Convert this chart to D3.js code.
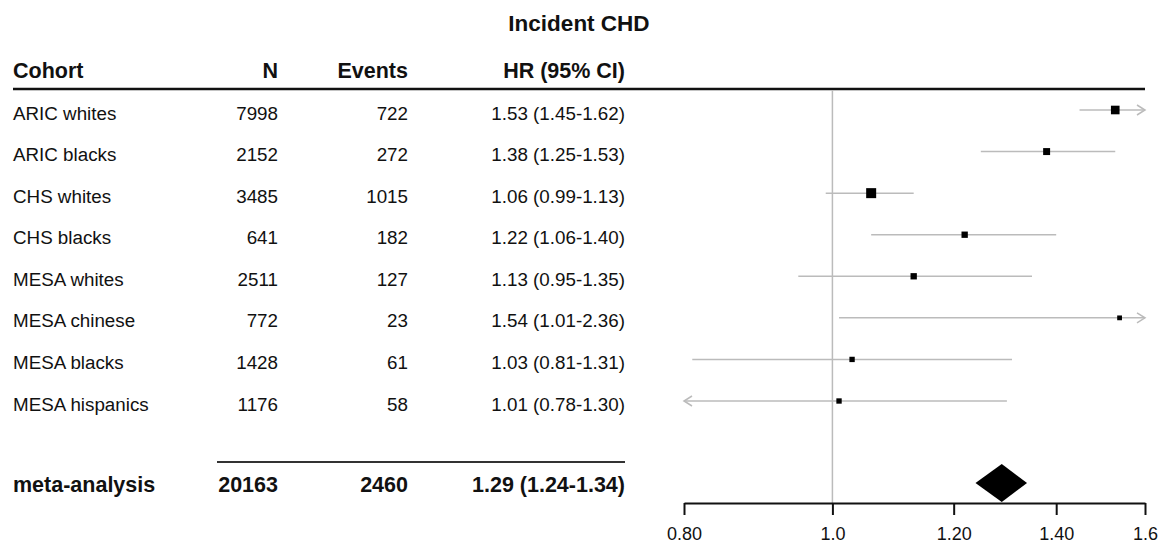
<!DOCTYPE html>
<html>
<head>
<meta charset="utf-8">
<script src="https://cdn.jsdelivr.net/npm/d3@7"></script>
<style>
  body { margin: 0; background: #fff; }
  svg text { font-family: "Liberation Sans", Arial, sans-serif; fill: #111; }
</style>
</head>
<body>
<svg id="chart" width="1163" height="550"></svg>
<script>
const cohorts = ["ARIC whites", "ARIC blacks", "CHS whites", "CHS blacks", "MESA whites", "MESA chinese", "MESA blacks", "MESA hispanics"];
const nValues = [7998, 2152, 3485, 641, 2511, 772, 1428, 1176];
const events = [722, 272, 1015, 182, 127, 23, 61, 58];
const hr = [1.53, 1.38, 1.06, 1.22, 1.13, 1.54, 1.03, 1.01];
const lower = [1.45, 1.25, 0.99, 1.06, 0.95, 1.01, 0.81, 0.78];
const upper = [1.62, 1.53, 1.13, 1.40, 1.35, 2.36, 1.31, 1.30];
const weights = [26, 17, 35, 14, 14, 8, 10, 10];

const metaLabel = "meta-analysis";
const metaN = 20163;
const metaEvents = 2460;
const metaHR = 1.29, metaLower = 1.24, metaUpper = 1.34;

const tickValues = [0.8, 1.0, 1.2, 1.4, 1.6];
const tickLabels = ["0.80", "1.0", "1.20", "1.40", "1.6"];
const headers = ["Cohort", "N", "Events", "HR (95% CI)"];
const title = "Incident CHD";

const svg = d3.select("#chart");
const fmt = d3.format(".2f");
const ciText = (h, l, u) => `${fmt(h)} (${fmt(l)}-${fmt(u)})`;

const x = d3.scaleLog().domain([0.8, 1.6]).range([684, 1145]);
const y = d3.scaleLinear().domain([0, cohorts.length - 1]).range([110, 401]);
const metaY = 486;
const axisY = 503;
const size = d3.scaleSqrt().domain([0, d3.max(weights)]).range([0, 10]);

const colX = [13, 278, 408, 625];
const anchor = (d, i) => i === 0 ? "start" : "end";

// title + header
svg.append("text").attr("x", 579).attr("y", 31)
  .attr("text-anchor", "middle").attr("font-size", 22.5).attr("font-weight", "bold")
  .text(title);

svg.selectAll(".hdr").data(headers).join("text")
  .attr("class", "hdr")
  .attr("x", (d, i) => colX[i]).attr("y", 78)
  .attr("text-anchor", anchor)
  .attr("font-size", 21.5).attr("font-weight", "bold")
  .text(d => d);

svg.append("line").attr("x1", 13).attr("x2", 1145).attr("y1", 89).attr("y2", 89)
  .attr("stroke", "#111").attr("stroke-width", 2.5);

// reference line at HR = 1
svg.append("line").attr("x1", x(1)).attr("x2", x(1)).attr("y1", 90).attr("y2", axisY)
  .attr("stroke", "#bbb").attr("stroke-width", 1.5);

// table rows
const rows = svg.selectAll(".row").data(cohorts).join("g")
  .attr("class", "row")
  .attr("transform", (d, i) => `translate(0,${y(i)})`);

rows.each(function (d, i) {
  const cells = [d, nValues[i], events[i], ciText(hr[i], lower[i], upper[i])];
  d3.select(this).selectAll("text").data(cells).join("text")
    .attr("x", (c, j) => colX[j]).attr("y", 9.5)
    .attr("text-anchor", anchor)
    .attr("font-size", 18.8)
    .text(c => c);
});

// CI lines, clipped to axis range with arrows
const [dMin, dMax] = x.domain();
rows.append("line")
  .attr("x1", (d, i) => x(Math.max(lower[i], dMin)))
  .attr("x2", (d, i) => x(Math.min(upper[i], dMax)))
  .attr("stroke", "#bbb").attr("stroke-width", 1.5);

rows.filter((d, i) => upper[i] > dMax).append("path")
  .attr("d", `M${x(dMax) - 8},-5 L${x(dMax)},0 L${x(dMax) - 8},5`)
  .attr("fill", "none").attr("stroke", "#bbb").attr("stroke-width", 1.5);
rows.filter((d, i) => lower[i] < dMin).append("path")
  .attr("d", `M${x(dMin) + 8},-5 L${x(dMin)},0 L${x(dMin) + 8},5`)
  .attr("fill", "none").attr("stroke", "#bbb").attr("stroke-width", 1.5);

rows.append("rect")
  .attr("x", (d, i) => x(hr[i]) - size(weights[i]) / 2)
  .attr("y", (d, i) => -size(weights[i]) / 2)
  .attr("width", (d, i) => size(weights[i]))
  .attr("height", (d, i) => size(weights[i]))
  .attr("fill", "#000");

// meta-analysis row
svg.append("line").attr("x1", 217).attr("x2", 625).attr("y1", 462).attr("y2", 462)
  .attr("stroke", "#333").attr("stroke-width", 2);

const metaVals = [metaLabel, metaN, metaEvents, ciText(metaHR, metaLower, metaUpper)];
svg.selectAll(".meta").data(metaVals).join("text")
  .attr("class", "meta")
  .attr("x", (d, i) => colX[i]).attr("y", metaY + 6)
  .attr("text-anchor", anchor)
  .attr("font-size", 21.5).attr("font-weight", "bold")
  .text(d => d);

svg.append("path")
  .attr("d", `M${x(metaLower)},${metaY - 3} L${x(metaHR)},${metaY - 22} L${x(metaUpper)},${metaY - 3} L${x(metaHR)},${axisY - 1} Z`)
  .attr("fill", "#000");

// x axis
const axis = d3.axisBottom(x).tickValues(tickValues)
  .tickFormat((d, i) => tickLabels[i]).tickSize(12).tickSizeOuter(0);
const ax = svg.append("g").attr("transform", `translate(0,${axisY})`).call(axis);
ax.select(".domain").attr("stroke", "#111").attr("stroke-width", 2);
ax.selectAll(".tick line").attr("stroke", "#111").attr("stroke-width", 2);
ax.selectAll(".tick text").attr("font-size", 18).attr("dy", 0).attr("y", 37)
  .attr("font-family", "Liberation Sans, Arial, sans-serif").attr("fill", "#111");
</script>
</body>
</html>
